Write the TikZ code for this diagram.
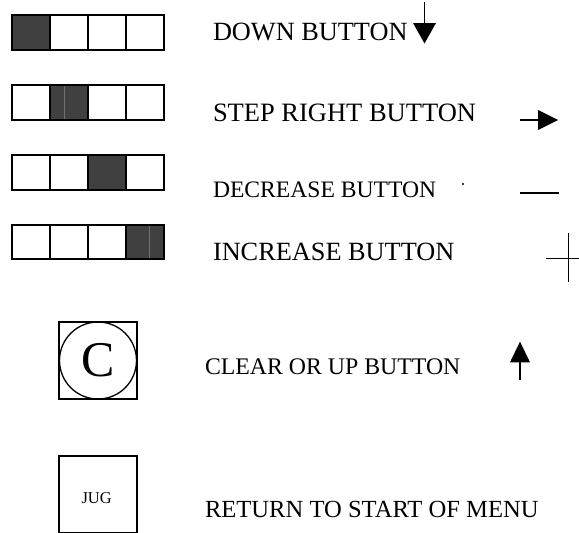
\documentclass[tikz,border=0pt]{standalone}
\usepackage{fontspec}
\setmainfont{Liberation Serif}
\begin{document}
\begin{tikzpicture}[x=1pt,y=-1pt,
  cell/.style={draw=black,line width=1.7pt},
  darkcell/.style={cell,fill=darkfill},
  lbl/.style={anchor=base west,inner sep=0pt,outer sep=0pt},
  sym/.style={line width=1.8pt,line cap=butt},
  head/.style={fill=black,draw=none}]
\definecolor{darkfill}{HTML}{404040}
\definecolor{streak}{HTML}{707070}
\useasboundingbox (0,0) rectangle (579,533);
% button rows
\foreach \r/\yt/\yb/\d in {1/15/49.7/0, 2/85/119.7/1, 3/155/189.8/2, 4/225.2/259/3}{
  \foreach \c in {0,1,2,3}{
    \pgfmathsetmacro{\xa}{12+38*\c}
    \pgfmathsetmacro{\xb}{50+38*\c}
    \ifnum\c=\d
      \draw[darkcell] (\xa,\yt) rectangle (\xb,\yb);
    \else
      \draw[cell] (\xa,\yt) rectangle (\xb,\yb);
    \fi
  }
}
\draw[streak,line width=0.8pt] (64.3,86) -- (64.3,118.8);
\draw[streak,line width=0.8pt] (149.5,226) -- (149.5,258.2);
% labels
\node[lbl] (down) at (213,40) {\fontsize{26.3}{30}\selectfont DOWN BUTTON};
\node[lbl] (step) at (213,121) {\fontsize{26.5}{30}\selectfont STEP RIGHT BUTTON};
\node[lbl] (dec) at (213,197) {\fontsize{23.6}{28}\selectfont DECREASE BUTTON};
\node[lbl] (inc) at (213,260) {\fontsize{26.3}{30}\selectfont INCREASE BUTTON};
\node[lbl] (clr) at (205,374) {\fontsize{23.8}{28}\selectfont CLEAR OR UP BUTTON};
\node[lbl] (ret) at (205,517) {\fontsize{24.6}{28}\selectfont RETURN TO START OF MENU};
% down arrow
\draw[sym] (424.5,2) -- (424.5,24);
\fill[head] (413,23) -- (436,23) -- (424.5,43.5) -- cycle;
% step right arrow
\draw[sym] (520,120) -- (539,120);
\fill[head] (538,110) -- (538,130) -- (558,120) -- cycle;
% minus and dot
\draw[sym] (520,192.7) -- (559,192.7);
\fill (463,184) circle (1.2);
% plus
\draw[line width=1.7pt] (546,258.5) -- (579,258.5);
\draw[line width=1.7pt] (568.5,233) -- (568.5,282);
% up arrow
\draw[sym] (520,380) -- (520,361);
\fill[head] (510,362.3) -- (530,362.3) -- (520,341.7) -- cycle;
% clear button
\draw[line width=1.3pt] (59,322) rectangle (137,399);
\node[draw,circle,line width=1.3pt,minimum size=77pt,inner sep=0pt] (cbtn) at (98,360.5) {\fontsize{50}{55}\selectfont C};
% jug button
\draw[line width=1.3pt] (59,456) rectangle (137,532.4);
\node[lbl] (jug) at (81.5,503.3) {\fontsize{16.5}{18}\selectfont JUG};
\end{tikzpicture}
\end{document}
